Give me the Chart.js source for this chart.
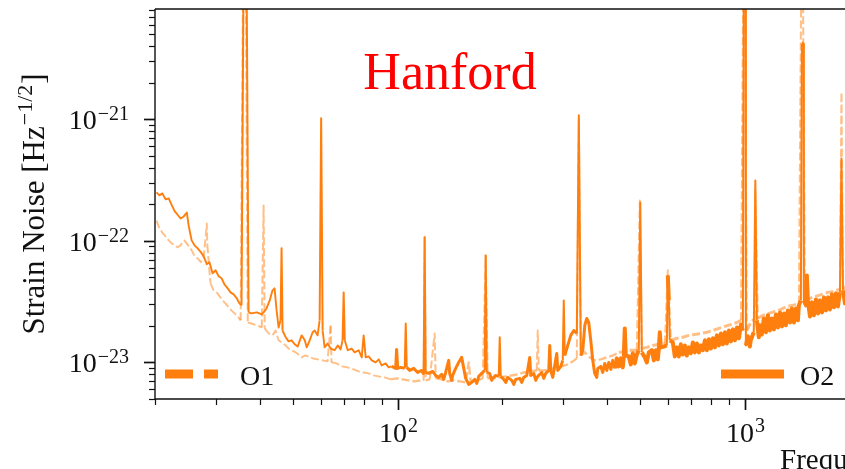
<!DOCTYPE html>
<html>
<head>
<meta charset="utf-8">
<script src="https://cdn.jsdelivr.net/npm/chart.js@4.4.1/dist/chart.umd.min.js"></script>
<style>
  html, body { margin: 0; padding: 0; background: #fff; overflow: hidden; }
  #wrap { position: relative; width: 883px; height: 469px; }
</style>
</head>
<body>
<div id="wrap"><canvas id="noise"></canvas></div>
<script>
// Hanford strain noise, O1 and O2 runs. Strain values in units of 1e-23 Hz^-1/2
const O2_FREQ = [
  20.2, 20.6, 21.0, 21.45, 21.9, 22.3, 22.8, 23.2, 23.7, 24.2,
  24.7, 25.0, 25.5, 26.0, 26.5, 27.1, 27.6, 28.2, 28.7, 29.3,
  29.9, 30.5, 31.1, 31.7, 32.4, 33.0, 33.7, 34.4, 35.0, 35.5,
  36.0, 36.7, 37.2, 37.9, 39.3, 40.6, 41.1, 41.9, 42.8, 43.6,
  44.2, 44.8, 45.4, 46.0, 46.3, 46.6, 47.6, 48.5, 49.5, 50.5,
  51.5, 52.9, 54.0, 54.7, 55.8, 56.9, 57.7, 58.8, 59.6, 60.2,
  60.8, 61.6, 62.8, 64.1, 65.8, 67.2, 68.5, 69.4, 69.9, 70.4,
  71.8, 73.7, 75.2, 77.2, 78.8, 79.8, 80.9, 82.5, 84.2, 86.4,
  88.2, 89.9, 92.3, 94.2, 96.1, 98.7, 99.3, 100, 102, 104.8,
  105.5, 106.2, 108.3, 111.2, 114.2, 117.3, 118.8, 119.6, 120.4, 122.8,
  126.1, 128.7, 131.3, 133.9, 135.7, 137.5, 140.3, 141.2, 143.1, 144.0,
  146.9, 149.9, 152.9, 155.0, 157.0, 160.2, 163.4, 166.7, 169.0, 171.2,
  174.6, 178.1, 179.3, 180.5, 184.1, 186.6, 187.8, 191.6, 195.5, 196.8,
  198.1, 202.1, 204.8, 207.5, 213.1, 216.0, 218.8, 224.7, 227.7, 230.7,
  235.4, 240.1, 241.7, 246.6, 249.9, 253.2, 260.0, 263.5, 267.0, 272.4,
  274.2, 276.0, 279.7, 281.6, 287.2, 289.2, 295.0, 298.9, 300.9, 302.9,
  309.0, 315.2, 321.6, 328.1, 332.5, 336.9, 341.4, 345.9, 350.5, 355.1,
  359.9, 364.7, 369.5, 374.5, 377.0, 384.6, 389.8, 395.0, 400.3, 405.6,
  411.1, 416.5, 422.1, 427.7, 433.5, 439.2, 445.0, 448.0, 451.0, 454.0,
  463.1, 469.4, 475.6, 482.0, 488.4, 494.9, 499.8, 504.9, 515.1, 522.0,
  528.9, 539.6, 546.8, 554.1, 561.5, 565.3, 568.9, 572.7, 584.2, 596.0,
  600.0, 604.0, 608.0, 620.2, 628.5, 636.9, 645.4, 654.1, 662.9, 671.7,
  680.7, 689.8, 699.1, 708.4, 717.9, 727.5, 737.2, 747.1, 757.1, 767.2,
  777.5, 787.9, 798.4, 809.1, 819.9, 830.9, 841.9, 853.3, 864.6, 876.3,
  887.8, 899.9, 911.8, 924.1, 936.3, 949.0, 961.5, 974.6, 986.8, 993.4,
  1003, 1007, 1020, 1034, 1040, 1061, 1072, 1083, 1097, 1105,
  1119, 1134, 1150, 1165, 1180, 1196, 1212, 1229, 1245, 1262,
  1279, 1296, 1313, 1330, 1349, 1366, 1385, 1403, 1422, 1431,
  1450, 1460, 1474, 1479, 1499, 1509, 1519, 1540, 1560, 1581,
  1602, 1624, 1645, 1668, 1690, 1712, 1735, 1758, 1782, 1806,
  1830, 1854, 1879, 1898, 1917, 1942, 1968, 2007, 2034, 2100,
  2200, 2350, 2500
];
const O2_STRAIN = [
  25.1, 23.7, 24.6, 22.0, 22.4, 20.0, 17.5, 16.5, 15.3, 15.9,
  17.1, 13.4, 10.1, 9.2, 8.72, 8.08, 7.49, 6.43, 6.68, 5.42,
  5.73, 5.12, 4.93, 4.39, 4.07, 3.77, 3.63, 3.37, 3.06, 2.95,
  2000, 2000, 2.58, 2.53, 2.58, 2.48, 2.58, 2.78, 3.24, 3.92,
  4.07, 2.68, 1.94, 2.22, 8.72, 1.83, 1.61, 1.49, 1.52, 1.41,
  1.35, 1.67, 1.52, 1.33, 1.52, 1.77, 1.83, 1.67, 2.22, 102,
  1.83, 1.33, 1.43, 1.30, 1.26, 1.38, 1.28, 1.52, 3.77, 1.52,
  1.26, 1.30, 1.21, 1.26, 1.10, 1.67, 1.10, 1.12, 1.04, 1.0,
  1.06, 0.945, 0.981, 0.910, 0.927, 0.893, 1.28, 0.893, 0.910, 0.893,
  2.09, 0.910, 0.859, 0.893, 0.827, 0.859, 0.797, 10.7, 0.827, 0.812,
  0.843, 0.782, 0.753, 0.797, 0.725, 0.827, 1.04, 0.812, 0.711, 0.782,
  0.893, 1.0, 1.10, 0.893, 0.739, 0.659, 0.685, 0.725, 0.672, 0.767,
  0.812, 0.859, 7.6, 0.827, 0.812, 0.711, 0.739, 0.782, 0.767, 1.61,
  0.767, 0.725, 0.685, 0.753, 0.711, 0.659, 0.725, 0.739, 0.685, 0.753,
  0.782, 1.10, 0.782, 0.812, 0.711, 0.767, 0.827, 0.739, 0.812, 0.859,
  1.38, 0.859, 0.753, 0.843, 1.186, 0.859, 0.927, 1.04, 3.24, 1.14,
  1.38, 1.67, 1.83, 1.73, 108, 1.14, 1.26, 2.02, 2.30, 2.13,
  1.52, 1.04, 0.812, 0.753, 0.893, 0.927, 0.827, 0.981, 0.859, 1.0,
  0.876, 1.04, 0.893, 1.08, 0.927, 1.08, 0.910, 1.12, 1.905, 1.14,
  1.12, 0.963, 1.19, 0.981, 1.16, 1.26, 20.7, 1.21, 1.10, 1.0,
  1.21, 1.26, 1.04, 1.26, 1.06, 1.30, 1.77, 1.33, 1.35, 1.38,
  5.2, 3.24, 1.52, 1.46, 1.12, 1.33, 1.12, 1.41, 1.16, 1.38,
  1.14, 1.33, 1.19, 1.46, 1.21, 1.43, 1.21, 1.38, 1.26, 1.52,
  1.26, 1.55, 1.30, 1.58, 1.33, 1.67, 1.38, 1.73, 1.41, 1.77,
  1.43, 1.83, 1.49, 1.87, 1.52, 1.94, 1.58, 2.05, 1.83, 2000,
  2000, 1.38, 1.64, 1.35, 1.52, 1.77, 31.4, 2.22, 1.61, 2.02,
  1.70, 2.30, 1.77, 2.44, 1.83, 2.30, 1.87, 2.48, 1.94, 2.58,
  1.98, 2.53, 2.02, 2.68, 2.13, 2.78, 2.13, 2.78, 2.22, 2.95,
  3.24, 420, 420, 3.24, 2.95, 5.2, 3.24, 2.39, 3.12, 2.44,
  3.30, 2.53, 3.24, 2.58, 3.43, 2.68, 3.43, 2.73, 3.63, 2.84,
  3.70, 2.89, 3.77, 47.7, 3.92, 3.06, 4.07, 3.24, 4.30, 3.60,
  4.60, 3.90, 4.80
];

const O1_FREQ = [
  20.2, 20.6, 21.0, 21.45, 21.9, 22.3, 22.8, 23.2, 23.7, 24.3,
  25.0, 25.5, 26.0, 26.5, 27.1, 27.6, 28.0, 28.2, 28.3, 28.9,
  29.5, 30.1, 30.7, 31.3, 31.9, 32.6, 33.2, 33.9, 34.6, 35.3,
  35.9, 36.5, 37.0, 37.9, 39.3, 40.6, 41.1, 41.4, 42.5, 43.6,
  44.5, 45.4, 46.3, 47.6, 48.5, 49.5, 50.8, 51.8, 52.9, 54.0,
  55.4, 56.9, 58.8, 60.8, 62.8, 64.1, 64.5, 66.7, 69.0, 71.8,
  74.7, 77.2, 79.8, 82.5, 85.3, 88.2, 91.7, 95.5, 99.3, 103.4,
  107.6, 111.9, 116.5, 118.8, 119.6, 120.4, 123.7, 127.8, 128.7, 133.9,
  139.4, 145.0, 150.9, 157.0, 160.2, 162.3, 169.0, 175.8, 179.3, 181.7,
  189.1, 196.8, 204.8, 213.1, 221.8, 230.7, 240.1, 251.5, 253.2, 254.9,
  263.5, 274.2, 285.3, 296.9, 309.0, 319.5, 328.1, 332.5, 336.9, 345.9,
  357.5, 369.5, 384.6, 400.3, 416.5, 433.5, 451.0, 469.4, 488.4, 498.2,
  504.9, 522.0, 543.2, 565.3, 588.5, 600.0, 612.3, 636.9, 662.9, 689.8,
  717.9, 747.1, 777.5, 809.1, 841.9, 876.3, 911.8, 949.0, 974.6, 990.1,
  1000, 1013, 1040, 1069, 1072, 1090, 1127, 1173, 1221, 1270,
  1321, 1375, 1431, 1455, 1469, 1489, 1540, 1602, 1668, 1735,
  1806, 1879, 1898, 1917, 1968, 2034, 2500
];
const O1_STRAIN = [
  14.7, 12.7, 11.7, 10.9, 10.1, 9.58, 9.22, 8.85, 9.22, 10.1,
  9.05, 8.39, 7.49, 7.21, 6.68, 7.21, 10.9, 13.9, 9.22, 4.48,
  3.92, 3.77, 3.50, 3.24, 3.06, 2.84, 2.68, 2.53, 2.39, 2.22,
  2000, 2000, 2.13, 2.09, 2.02, 1.94, 19.6, 1.905, 1.73, 1.67,
  1.83, 1.52, 1.46, 1.38, 1.30, 1.26, 1.21, 1.16, 1.10, 1.14,
  1.12, 1.08, 1.06, 1.04, 1.02, 2.02, 1.0, 0.981, 0.927, 0.910,
  0.876, 0.843, 0.827, 0.812, 0.782, 0.767, 0.753, 0.725, 0.739, 0.725,
  0.711, 0.698, 0.711, 0.711, 10.7, 0.711, 0.725, 1.73, 0.739, 0.725,
  0.698, 0.711, 0.698, 0.685, 1.0, 0.698, 0.711, 0.739, 7.6, 0.739,
  0.739, 0.753, 0.767, 0.782, 0.797, 0.827, 0.843, 0.859, 1.83, 0.859,
  0.859, 0.876, 0.910, 0.927, 0.963, 1.02, 1.08, 100, 1.14, 1.21,
  1.10, 1.04, 1.06, 1.10, 1.14, 1.21, 1.23, 1.26, 1.26, 21.5,
  1.30, 1.33, 1.38, 1.41, 1.43, 5.73, 1.52, 1.58, 1.61, 1.67,
  1.70, 1.73, 1.77, 1.83, 1.905, 1.98, 2.05, 2.13, 2.22, 2000,
  2000, 1.83, 2.13, 2.30, 26.0, 2.30, 2.44, 2.53, 2.63, 2.73,
  2.89, 2.95, 3.06, 2000, 2000, 3.24, 3.37, 3.50, 3.63, 3.77,
  3.85, 4.0, 167, 4.07, 4.23, 4.39, 5.0
];

// axis ticks
const X_MAJOR = [100, 1000];
const X_MAJOR_EXP = ["2", "3"];
const Y_MAJOR = [1e-23, 1e-22, 1e-21];
const Y_MAJOR_EXP = ["\u221223", "\u221222", "\u221221"];

const X_MIN = 20, X_MAX = 2500;
const Y_MIN = 5e-24, Y_MAX = 8.1e-21;

const orange = "rgba(255, 127, 14, 1)";
const orangeLight = "rgba(255, 127, 14, 0.5)";
const serif = "'Liberation Serif', 'Times New Roman', serif";

function toPoints(freq, strain) {
  return freq.map((f, i) => ({x: f, y: strain[i] * 1e-23}));
}

// the noise floor is drawn as a thicker band, narrow lines stay thin
function bandWidth(freq, strain, wide, mid, thin) {
  return (c) => {
    const i = c.p0DataIndex, j = c.p1DataIndex;
    const jump = Math.abs(Math.log10(strain[j] / strain[i]));
    if (jump > 0.3) return 2;
    if (freq[i] > 420) return wide;
    if (freq[i] > 95) return mid;
    return thin;
  };
}

function minorTicks(lo, hi) {
  var out = [];
  for (let e = Math.floor(Math.log10(lo)); e <= Math.ceil(Math.log10(hi)); e++) {
    for (let m = 2; m <= 9; m++) {
      let v = m * Math.pow(10, e);
      if (v >= lo && v <= hi) out.push(v);
    }
  }
  return out;
}

// "10" with a raised exponent
function drawPow(ctx, x, y, exp, align, baseSize, expSize, rise) {
  ctx.font = baseSize + "px " + serif;
  var wb = ctx.measureText("10").width;
  ctx.font = expSize + "px " + serif;
  var we = ctx.measureText(exp).width;
  var gap = 1;
  var x0 = x;
  if (align === "center") x0 = x - (wb + gap + we) / 2;
  if (align === "right") x0 = x - (wb + gap + we);
  ctx.textAlign = "left";
  ctx.textBaseline = "alphabetic";
  ctx.font = baseSize + "px " + serif;
  ctx.fillText("10", x0, y);
  ctx.font = expSize + "px " + serif;
  ctx.fillText(exp, x0 + wb + gap, y - rise);
}

const decorations = {
  id: "decorations",
  afterDraw(chart) {
    const ctx = chart.ctx;
    const area = chart.chartArea;
    const xs = chart.scales.x;
    const ys = chart.scales.y;
    ctx.save();
    ctx.fillStyle = "#111";
    ctx.strokeStyle = "#111";

    // spines
    ctx.lineWidth = 1.4;
    ctx.beginPath();
    ctx.moveTo(area.left, area.top);
    ctx.lineTo(area.right, area.top);
    ctx.moveTo(area.left, area.top);
    ctx.lineTo(area.left, area.bottom);
    ctx.lineTo(area.right, area.bottom);
    ctx.stroke();

    // x ticks
    X_MAJOR.forEach((v, i) => {
      let px = Math.round(xs.getPixelForValue(v)) + 0.5;
      ctx.lineWidth = 1.7;
      ctx.beginPath(); ctx.moveTo(px, area.bottom); ctx.lineTo(px, area.bottom + 11); ctx.stroke();
      drawPow(ctx, px, area.bottom + 43, X_MAJOR_EXP[i], "center", 28, 20, 10);
    });
    minorTicks(X_MIN, X_MAX).forEach((v) => {
      let px = Math.round(xs.getPixelForValue(v)) + 0.5;
      ctx.lineWidth = 1.2;
      ctx.beginPath(); ctx.moveTo(px, area.bottom); ctx.lineTo(px, area.bottom + 6); ctx.stroke();
    });

    // y ticks
    Y_MAJOR.forEach((v, i) => {
      let py = Math.round(ys.getPixelForValue(v)) + 0.5;
      ctx.lineWidth = 1.7;
      ctx.beginPath(); ctx.moveTo(area.left, py); ctx.lineTo(area.left - 11, py); ctx.stroke();
      drawPow(ctx, area.left - 26, py + 9, Y_MAJOR_EXP[i], "right", 28, 20, 9);
    });
    minorTicks(Y_MIN, Y_MAX).forEach((v) => {
      let py = Math.round(ys.getPixelForValue(v)) + 0.5;
      ctx.lineWidth = 1.2;
      ctx.beginPath(); ctx.moveTo(area.left, py); ctx.lineTo(area.left - 6, py); ctx.stroke();
    });

    // axis titles
    ctx.font = "29px " + serif;
    ctx.textAlign = "left";
    ctx.textBaseline = "alphabetic";
    ctx.fillText("Frequency [Hz]", 780, 469);

    ctx.save();
    ctx.translate(44, (area.top + area.bottom) / 2);
    ctx.rotate(-Math.PI / 2);
    ctx.font = "31px " + serif;
    var part1 = "Strain Noise [Hz";
    var w1 = ctx.measureText(part1).width;
    var w3 = ctx.measureText("]").width;
    ctx.font = "22px " + serif;
    var w2 = ctx.measureText("\u22121/2").width;
    var x0 = -(w1 + w2 + w3 + 2) / 2;
    ctx.font = "31px " + serif;
    ctx.fillText(part1, x0, 0);
    ctx.font = "22px " + serif;
    ctx.fillText("\u22121/2", x0 + w1 + 1, -12);
    ctx.font = "31px " + serif;
    ctx.fillText("]", x0 + w1 + w2 + 2, 0);
    ctx.restore();

    // detector name
    ctx.fillStyle = "#ff0000";
    ctx.font = "52px " + serif;
    ctx.textAlign = "center";
    ctx.fillText("Hanford", 450, 89);

    // legends
    ctx.strokeStyle = orange;
    ctx.lineWidth = 9;
    ctx.lineCap = "butt";
    ctx.setLineDash([28, 11]);
    ctx.beginPath(); ctx.moveTo(165, 374); ctx.lineTo(218, 374); ctx.stroke();
    ctx.setLineDash([]);
    ctx.beginPath(); ctx.moveTo(721, 374); ctx.lineTo(784, 374); ctx.stroke();
    ctx.fillStyle = "#111";
    ctx.font = "28px " + serif;
    ctx.textAlign = "left";
    ctx.fillText("O1", 240, 385);
    ctx.fillText("O2", 800, 385);
    ctx.restore();
  }
};

const ctx = document.getElementById("noise");
new Chart(ctx, {
  type: "line",
  data: {
    datasets: [
      {
        label: "O2",
        data: toPoints(O2_FREQ, O2_STRAIN),
        borderColor: orange,
        borderWidth: 1.9,
        borderJoinStyle: "round",
        segment: { borderWidth: bandWidth(O2_FREQ, O2_STRAIN, 4, 3, 1.9) },
        pointRadius: 0,
        tension: 0,
        clip: 0
      },
      {
        label: "O1",
        data: toPoints(O1_FREQ, O1_STRAIN),
        borderColor: orangeLight,
        borderWidth: 1.9,
        borderDash: [8, 3],
        borderJoinStyle: "round",
        segment: { borderWidth: bandWidth(O1_FREQ, O1_STRAIN, 3, 2.4, 1.9) },
        pointRadius: 0,
        tension: 0,
        clip: 0
      }
    ]
  },
  options: {
    responsive: true,
    maintainAspectRatio: false,
    animation: false,
    events: [],
    layout: { padding: { left: 155, top: 9, right: 0, bottom: 70 } },
    plugins: { legend: { display: false }, tooltip: { enabled: false }, title: { display: false } },
    scales: {
      x: { type: "logarithmic", min: X_MIN, max: X_MAX, display: false },
      y: { type: "logarithmic", min: Y_MIN, max: Y_MAX, display: false }
    }
  },
  plugins: [decorations]
});
</script>
</body>
</html>
